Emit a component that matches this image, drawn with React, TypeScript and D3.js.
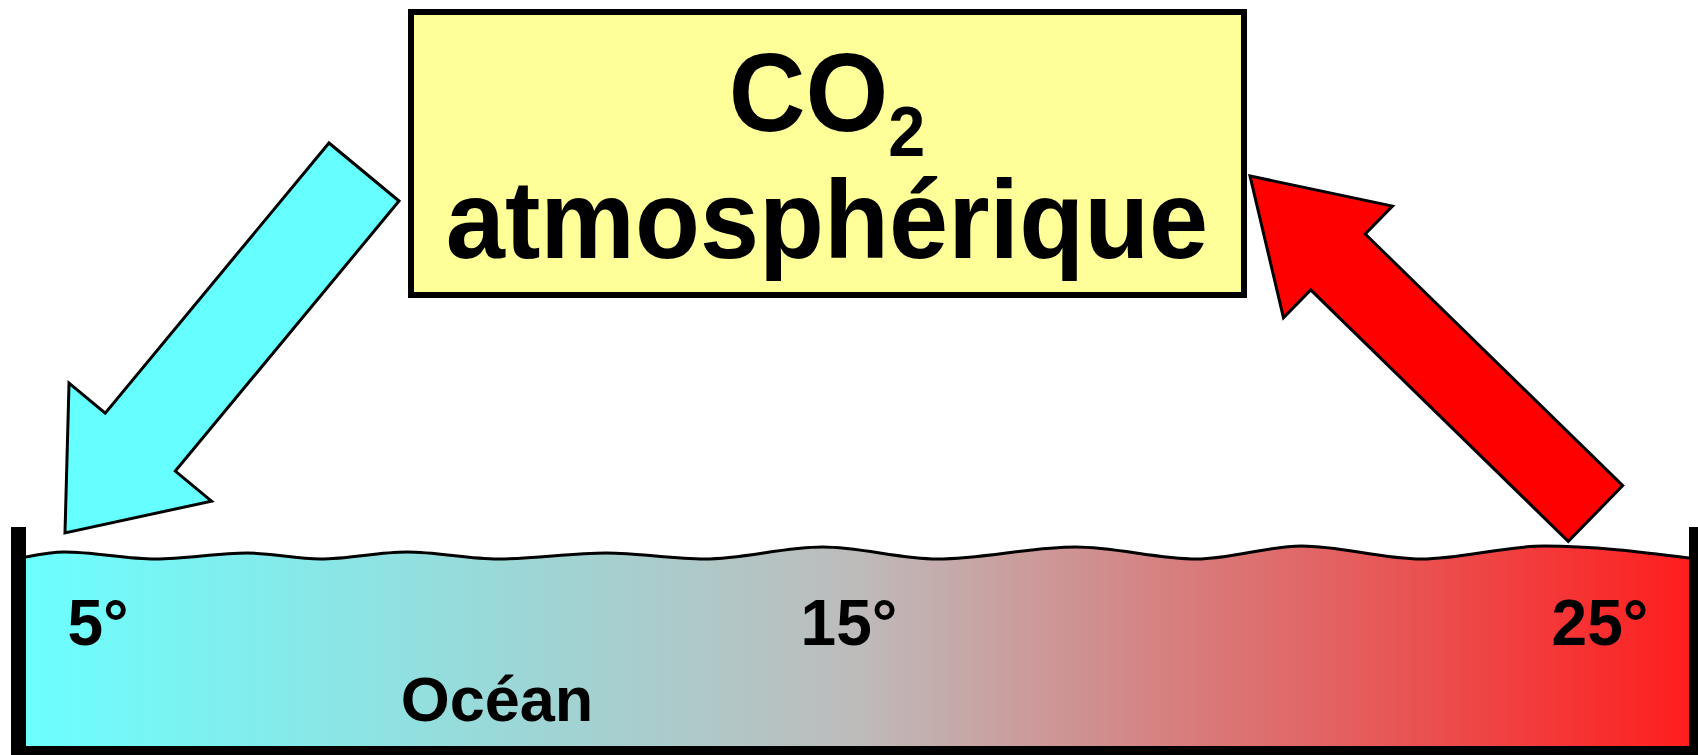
import { useEffect, useRef } from 'react';
import * as d3 from 'd3';

// Températures de l'océan et leurs étiquettes
const temperatures = [5, 15, 25];
const temperatureLabels = ['5°', '15°', '25°'];
const waterColors = ['#6CFFFF', '#BEBBBB', '#FF1E1E'];

// Textes
const titleMain = 'CO';
const titleSub = '2';
const subtitle = 'atmosphérique';
const oceanLabel = 'Océan';

// Surface de l'eau: position relative (0..1) et hauteur de vague
const waveAt = [0, 0.023, 0.078, 0.133, 0.177, 0.229, 0.284, 0.349, 0.408, 0.479, 0.548, 0.631, 0.704, 0.767, 0.839, 0.913, 1];
const waveHeight = [3, 8, 1, 7, 1, 8, 1, 7, 1, 13, 1, 13, 1, 14, 1, 14, 2];

// Flux: absorption (eau froide) et dégazage (eau chaude)
const fluxNames = ['absorption', 'dégazage'];
const fluxColors = ['#66FFFF', '#FF0000'];

type Pt = [number, number];

interface ArrowGeom {
  from: Pt;
  to: Pt;
  shaft: number;
  head: number;
  headLen: number;
}

const arrowPoints = (a: ArrowGeom): Pt[] => {
  const dx = a.to[0] - a.from[0];
  const dy = a.to[1] - a.from[1];
  const len = Math.hypot(dx, dy);
  const ux = dx / len;
  const uy = dy / len;
  const px = -uy;
  const py = ux;
  const bx = a.to[0] - ux * a.headLen;
  const by = a.to[1] - uy * a.headLen;
  const s = a.shaft / 2;
  const h = a.head / 2;
  return [
    [a.from[0] + px * s, a.from[1] + py * s],
    [bx + px * s, by + py * s],
    [bx + px * h, by + py * h],
    a.to,
    [bx - px * h, by - py * h],
    [bx - px * s, by - py * s],
    [a.from[0] - px * s, a.from[1] - py * s],
  ];
};

const App: React.FC = () => {
  const svgRef = useRef<SVGSVGElement | null>(null);

  useEffect(() => {
    if (svgRef.current === null) return;
    const width = 1698;
    const height = 755;
    const font = "'Liberation Sans', Arial, sans-serif";

    const svg = d3.select(svgRef.current);
    svg.selectAll('*').remove();
    svg.attr('width', width).attr('height', height);

    svg.append('rect').attr('width', width).attr('height', height).attr('fill', '#fff');

    // échelles
    const xOcean = d3.scaleLinear().domain([0, 1]).range([26, 1689]);
    const ySurface = d3.scaleLinear().domain([0, 14]).range([560, 546]);
    const xTemp = d3.scaleLinear().domain([5, 25]).range([98, 1600]);
    const color = d3.scaleLinear<string>().domain(temperatures).range(waterColors);

    // dégradé de l'eau
    const grad = svg
      .append('defs')
      .append('linearGradient')
      .attr('id', 'water')
      .attr('x1', 0)
      .attr('x2', 1)
      .attr('y1', 0)
      .attr('y2', 0);
    grad
      .selectAll('stop')
      .data(d3.range(0, 1.0001, 0.1))
      .enter()
      .append('stop')
      .attr('offset', (d) => d)
      .attr('stop-color', (d) => color(5 + d * 20));

    const wave = waveAt.map((t, i) => ({ t, h: waveHeight[i] }));

    // flèches
    const arrows: ArrowGeom[] = [
      { from: [364, 172], to: [65, 533], shaft: 91, head: 185, headLen: 118 },
      { from: [1595.5, 513.5], to: [1250, 176], shaft: 78, head: 156, headLen: 123 },
    ];
    const line = d3.line();
    svg
      .selectAll('.flux')
      .data(fluxNames)
      .enter()
      .append('path')
      .attr('class', 'flux')
      .attr('d', (_d, i) => line(arrowPoints(arrows[i]))! + 'Z')
      .attr('fill', (_d, i) => fluxColors[i])
      .attr('stroke', '#000')
      .attr('stroke-width', 3)
      .attr('stroke-linejoin', 'miter');

    // eau
    const area = d3
      .area<{ t: number; h: number }>()
      .x((d) => xOcean(d.t))
      .y0(752)
      .y1((d) => ySurface(d.h))
      .curve(d3.curveMonotoneX);
    svg.append('path').attr('d', area(wave)!).attr('fill', 'url(#water)');

    const surface = d3
      .line<{ t: number; h: number }>()
      .x((d) => xOcean(d.t))
      .y((d) => ySurface(d.h))
      .curve(d3.curveMonotoneX);
    svg
      .append('path')
      .attr('d', surface(wave)!)
      .attr('fill', 'none')
      .attr('stroke', '#000')
      .attr('stroke-width', 3);

    // bac
    svg
      .append('path')
      .attr('d', 'M18.5,527V753.5H1696.5V527')
      .attr('fill', 'none')
      .attr('stroke', '#000')
      .attr('stroke-width', 15);

    // températures
    svg
      .selectAll('.temp')
      .data(temperatures)
      .enter()
      .append('text')
      .attr('class', 'temp')
      .attr('x', (d) => xTemp(d))
      .attr('y', 645)
      .attr('text-anchor', 'middle')
      .attr('font-family', font)
      .attr('font-weight', 'bold')
      .attr('font-size', 64)
      .text((_d, i) => temperatureLabels[i]);

    svg
      .append('text')
      .attr('x', 497)
      .attr('y', 721)
      .attr('text-anchor', 'middle')
      .attr('font-family', font)
      .attr('font-weight', 'bold')
      .attr('font-size', 63)
      .text(oceanLabel);

    // boîte CO2
    svg
      .append('rect')
      .attr('x', 411)
      .attr('y', 12)
      .attr('width', 833)
      .attr('height', 283)
      .attr('fill', '#FFFF99')
      .attr('stroke', '#000')
      .attr('stroke-width', 6);

    const title = svg
      .append('text')
      .attr('transform', 'translate(827,131) scale(0.95,1)')
      .attr('text-anchor', 'middle')
      .attr('font-family', font)
      .attr('font-weight', 'bold')
      .attr('font-size', 112);
    title.append('tspan').text(titleMain);
    title.append('tspan').attr('font-size', 70).attr('dy', 25).text(titleSub);

    svg
      .append('text')
      .attr('transform', 'translate(827,258) scale(0.95,1)')
      .attr('text-anchor', 'middle')
      .attr('font-family', font)
      .attr('font-weight', 'bold')
      .attr('font-size', 112)
      .text(subtitle);
  }, []);

  return (
    <svg ref={svgRef} style={{ position: 'absolute', left: 0, top: 0, display: 'block' }}></svg>
  );
};

export default App;
